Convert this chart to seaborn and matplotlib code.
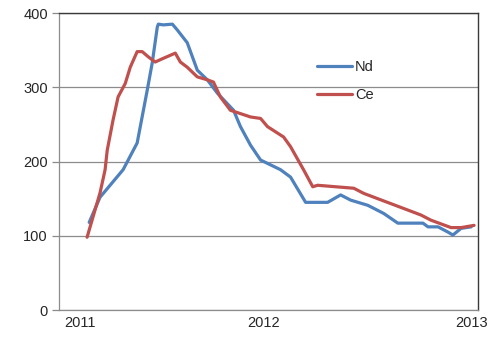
import pandas as pd
import seaborn as sns
import matplotlib.pyplot as plt

# values (x in decimal years)
nd_x = [2011.144, 2011.196, 2011.220, 2011.306, 2011.373, 2011.421, 2011.445, 2011.469,
        2011.474, 2011.498, 2011.541, 2011.565, 2011.612, 2011.660, 2011.708, 2011.756,
        2011.833, 2011.866, 2011.914, 2011.962, 2012.057, 2012.105, 2012.177, 2012.282,
        2012.344, 2012.392, 2012.474, 2012.550, 2012.617, 2012.737, 2012.761, 2012.809,
        2012.856, 2012.880, 2012.919, 2012.967]
nd_y = [118, 152, 160, 189, 225, 296, 333, 381,
        385, 384, 385, 377, 360, 323, 310, 292,
        269, 247, 222, 202, 189, 179, 145, 145,
        155, 148, 141, 130, 117, 117, 112, 112,
        105, 101, 110, 112]

ce_x = [2011.134, 2011.196, 2011.220, 2011.230, 2011.258, 2011.282, 2011.316, 2011.340,
        2011.373, 2011.397, 2011.426, 2011.459, 2011.498, 2011.555, 2011.579, 2011.612,
        2011.660, 2011.708, 2011.737, 2011.770, 2011.818, 2011.914, 2011.962, 2011.995,
        2012.072, 2012.105, 2012.167, 2012.211, 2012.234, 2012.407, 2012.455, 2012.727,
        2012.775, 2012.871, 2012.919, 2012.981]
ce_y = [98, 158, 189, 215, 256, 287, 305, 327,
        348, 348, 341, 334, 339, 346, 334, 327,
        314, 310, 307, 287, 269, 260, 258, 247,
        233, 220, 189, 166, 168, 164, 157, 128,
        121, 111, 111, 114]

year_labels = ['2011', '2012', '2013']
year_label_pos = [2011.10, 2011.976, 2012.967]
tick_pos = [2011.0, 2011.665, 2012.335, 2013.0]

df = pd.concat([
    pd.DataFrame({'year': nd_x, 'price': nd_y, 'element': 'Nd'}),
    pd.DataFrame({'year': ce_x, 'price': ce_y, 'element': 'Ce'}),
])

sns.set_style('white')
plt.rcParams['font.family'] = ['Liberation Sans', 'DejaVu Sans']

fig = plt.figure(figsize=(4.93, 3.38), dpi=100)
ax = fig.add_axes([0.1197, 0.0828, 0.85, 0.8787])

sns.lineplot(data=df, x='year', y='price', hue='element', sort=False,
             palette={'Nd': '#4F81BD', 'Ce': '#C0504D'}, linewidth=2.3,
             estimator=None, ax=ax)

ax.set_xlim(2011.0, 2013.0)
ax.set_ylim(0, 400)
ax.set_yticks([0, 100, 200, 300, 400])
ax.yaxis.grid(True, color='#8c8c8c', linewidth=0.9)
ax.set_axisbelow(True)

ax.set_xticks(year_label_pos)
ax.set_xticklabels(year_labels)
ax.set_xticks(tick_pos, minor=True)
ax.tick_params(axis='x', which='major', length=0, pad=4, labelsize=10.5)
ax.tick_params(axis='x', which='minor', length=5, width=0.9, color='#8c8c8c', direction='out')
ax.tick_params(axis='y', length=5, width=0.9, color='#8c8c8c', direction='out', pad=3,
               labelsize=10.5, left=True)
ax.set_xlabel('')
ax.set_ylabel('')

for side in ['left', 'bottom']:
    ax.spines[side].set_color('#8c8c8c')
    ax.spines[side].set_linewidth(0.9)
for side in ['top', 'right']:
    ax.spines[side].set_color('#3a3a3a')
    ax.spines[side].set_linewidth(1.0)

ax.legend(frameon=False, loc='upper left', bbox_to_anchor=(0.585, 0.885),
          fontsize=10.5, handlelength=2.4, handletextpad=0.2, labelspacing=0.95)

fig.savefig('out.png', dpi=100)
